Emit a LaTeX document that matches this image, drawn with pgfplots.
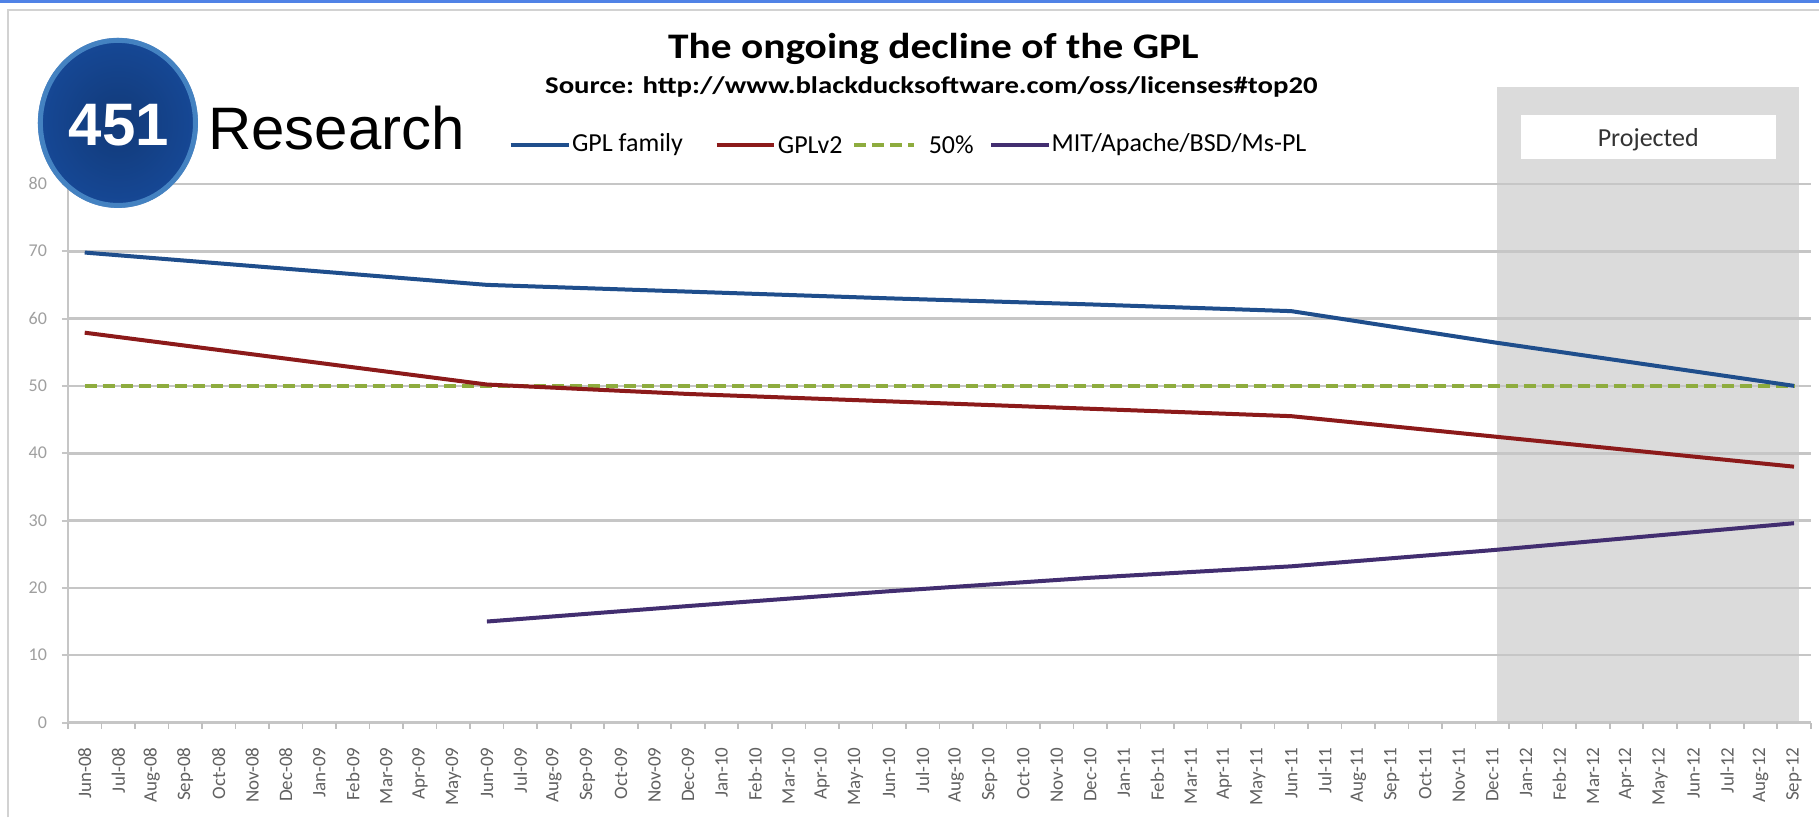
\documentclass[border=0pt]{standalone}
\usepackage{pgfplots}
\pgfplotsset{compat=1.18}
\usepackage{fontspec}
\setmainfont{Carlito}
\newfontfamily\arialfont{Liberation Sans}
\definecolor{gplblue}{RGB}{31,78,140}
\definecolor{gplred}{RGB}{140,26,26}
\definecolor{gplgreen}{RGB}{142,172,62}
\definecolor{mitpurple}{RGB}{66,46,112}
\definecolor{logoblue}{RGB}{22,72,150}
\definecolor{logorim}{RGB}{80,145,205}
\definecolor{topblue}{RGB}{80,130,230}
\begin{document}
\begin{tikzpicture}[x=1pt,y=1pt]
\fill[white] (0,0) rectangle (910,409);
\fill[topblue] (0,407.6) rectangle (910,409);
\draw[gray!35, line width=1.2pt] (4,0) -- (4,404) -- (910,404);
% projected-period shading (from Dec-11 to just past Sep-12, up into the header)
\fill[gray!28] (749,47.5) rectangle (900,365.5);
\begin{axis}[
  at={(34pt,47.5pt)}, anchor=south west,
  width=872pt, height=269.5pt, scale only axis,
  xmin=-0.5, xmax=51.5, ymin=0, ymax=80,
  axis x line*=bottom, axis y line*=left,
  axis line style={gray!45, line width=1.3pt},
  clip=false,
  ytick={0,10,...,80},
  ymajorgrids,
  major grid style={gray!45, line width=1.3pt},
  ytick style={gray!45, line width=1pt},
  major tick length=3pt,
  tick align=outside,
  yticklabel style={font=\fontsize{9}{9}\selectfont, text=gray!75, xshift=-4pt},
  /pgf/number format/assume math mode=true,
  xtick={0,...,51},
  xtick style={draw=none},
  xticklabels={Jun-08,Jul-08,Aug-08,Sep-08,Oct-08,Nov-08,Dec-08,Jan-09,Feb-09,Mar-09,Apr-09,May-09,Jun-09,Jul-09,Aug-09,Sep-09,Oct-09,Nov-09,Dec-09,Jan-10,Feb-10,Mar-10,Apr-10,May-10,Jun-10,Jul-10,Aug-10,Sep-10,Oct-10,Nov-10,Dec-10,Jan-11,Feb-11,Mar-11,Apr-11,May-11,Jun-11,Jul-11,Aug-11,Sep-11,Oct-11,Nov-11,Dec-11,Jan-12,Feb-12,Mar-12,Apr-12,May-12,Jun-12,Jul-12,Aug-12,Sep-12},
  xticklabel style={rotate=90, anchor=east, font=\fontsize{9.5}{9.5}\selectfont, text=black!62},
  xticklabel shift=6pt,
  extra x ticks={-0.5,0.5,...,51.5},
  extra x tick labels={},
  extra x tick style={xtick style={draw=gray!50, line width=0.8pt}, major tick length=3pt},
]
\addplot[fill=white, draw=none] coordinates {(42.85,83.7) (42.85,90.2) (50.45,90.2) (50.45,83.7)} -- cycle;
\node[font=\fontsize{13}{13}\selectfont, text=black!80] at (axis cs:46.65,86.6) {Projected};
\addplot[gplgreen, line width=2pt, dash pattern=on 6pt off 3pt] coordinates {(0,50) (51,50)};
\addplot[gplblue, line width=2pt] coordinates {(0,69.8) (12,65) (18,64) (24,63) (30,62.1) (36,61.1) (42,56.5) (51,50)};
\addplot[gplred, line width=2pt] coordinates {(0,57.9) (12,50.2) (18,48.8) (24,47.7) (30,46.6) (36,45.5) (42,42.5) (51,38)};
\addplot[mitpurple, line width=2pt] coordinates {(12,15) (18,17.3) (24,19.5) (30,21.5) (36,23.2) (42,25.6) (51,29.6)};
\end{axis}
% logo
\shade[inner color=logoblue!80!black, outer color=logoblue] (59,347.5) ellipse [x radius=40, y radius=42.5];
\draw[logorim, line width=2.5pt, opacity=0.8] (59,347.5) ellipse [x radius=38.8, y radius=41.3];
\node[text=white, font=\arialfont\bfseries\fontsize{30}{30}\selectfont, inner sep=0] at (59.5,346.5) {451};
\node[anchor=west, text=black, font=\arialfont\fontsize{30}{30}\selectfont, inner sep=0] at (104,345) {Research};
% titles
\node[font=\bfseries\fontsize{18}{18}\selectfont] at (467,384.5) {\scalebox{1.15}[1]{The ongoing decline of the GPL}};
\node[font=\bfseries\fontsize{12}{12}\selectfont] at (466,365.5) {\scalebox{1.2}[1]{Source: http://www.blackducksoftware.com/oss/licenses\#top20}};
% legend
\draw[gplblue, line width=2pt] (255.5,336.5) -- (284.5,336.5);
\node[anchor=west, inner sep=0, font=\fontsize{13}{13}\selectfont] at (286,336.5) {GPL family};
\draw[gplred, line width=2pt] (358.5,336.5) -- (387.5,336.5);
\node[anchor=west, inner sep=0, font=\fontsize{13}{13}\selectfont] at (389,336.5) {GPLv2};
\draw[gplgreen, line width=2pt, dash pattern=on 6pt off 3pt] (427.5,336.5) -- (457.5,336.5);
\node[anchor=west, inner sep=0, font=\fontsize{13}{13}\selectfont] at (464.5,336.5) {50\%};
\draw[mitpurple, line width=2pt] (496,336.5) -- (525,336.5);
\node[anchor=west, inner sep=0, font=\fontsize{13}{13}\selectfont] at (526,336.5) {MIT/Apache/BSD/Ms-PL};
\end{tikzpicture}
\end{document}
